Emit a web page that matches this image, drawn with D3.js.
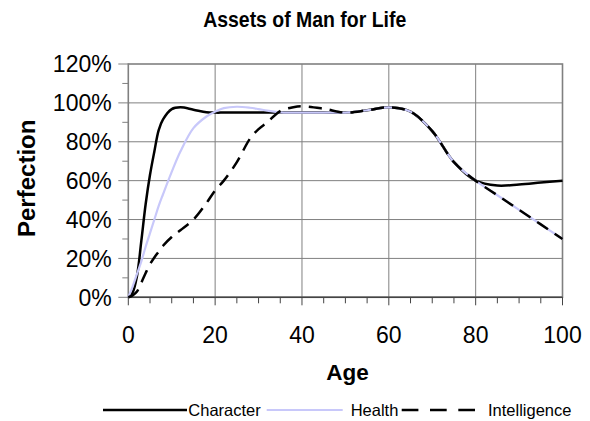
<!DOCTYPE html>
<html>
<head>
<meta charset="utf-8">
<script src="https://cdn.jsdelivr.net/npm/d3@7"></script>
<style>
  html, body { margin: 0; padding: 0; background: #fff; }
  svg { display: block; font-family: "Liberation Sans", Arial, sans-serif; }
</style>
</head>
<body>
<svg id="chart" width="590" height="421"></svg>
<script>
// ---- data ----
const ages = [0,1,2,3,4,5,6,7,8,10,12,15,18,20,22,25,28,30,32,35,38,40,45,50,55,60,65,70,75,80,85,90,95,100];
const character = [0,2.5,11,29,48,63,75,86,91.5,96.8,97.7,96.5,95.2,95,95,95,95,95,95,95,95,95,95,95,96.2,97.7,95.5,85.5,69.5,60,57.5,58,59,60];
const health = [0,5.5,12,18.5,26,33,40,47,53,64.5,75,87,93,95.5,97.3,98,97.5,96.8,96,95.1,95,95,95,95,96.2,97.7,95.5,85.5,69.5,60,52.5,45,37.5,30];
const intelligence = [0,1,3,7.5,12.5,17,20.5,23.5,26.5,31,34.5,40,48.5,55,60,69.5,81.5,86.5,90,95.8,97.8,98.3,97,95,96.2,97.7,95.5,85.5,69.5,60,52.5,45,37.5,30];
const seriesNames = ["Character", "Health", "Intelligence"];
const xTicks = [0,20,40,60,80,100];
const yTicks = [0,20,40,60,80,100,120];
const titleText = "Assets of Man for Life";
const xTitle = "Age";
const yTitle = "Perfection";

const svg = d3.select("#chart");
const x = d3.scaleLinear().domain([0,100]).range([128.3, 562.5]);
const y = d3.scaleLinear().domain([0,120]).range([297.3, 64]);

const gridColor = "#808080";

// gridlines
svg.append("g").selectAll("line.h").data(yTicks.filter(d => d > 0 && d < 120)).join("line")
  .attr("x1", x(0)).attr("x2", x(100)).attr("y1", d => y(d)).attr("y2", d => y(d))
  .attr("stroke", gridColor).attr("stroke-width", 1);
svg.append("g").selectAll("line.v").data(xTicks.filter(d => d > 0 && d < 100)).join("line")
  .attr("x1", d => x(d)).attr("x2", d => x(d)).attr("y1", y(0)).attr("y2", y(120))
  .attr("stroke", gridColor).attr("stroke-width", 1);

// plot border
svg.append("rect").attr("x", x(0)).attr("y", y(120)).attr("width", x(100) - x(0)).attr("height", y(0) - y(120))
  .attr("fill", "none").attr("stroke", gridColor).attr("stroke-width", 1.6);

// y axis ticks (every 10%)
const yMinor = d3.range(0, 121, 10);
svg.append("g").selectAll("line").data(yMinor).join("line")
  .attr("x1", d => d % 20 === 0 ? x(0) - 10 : x(0) - 6).attr("x2", d => d % 20 === 0 ? x(0) + 1 : x(0))
  .attr("y1", d => y(d)).attr("y2", d => y(d))
  .attr("stroke", gridColor).attr("stroke-width", 1);
// x axis ticks (every 5)
const xMinor = d3.range(0, 101, 5);
svg.append("g").selectAll("line").data(xMinor).join("line")
  .attr("x1", d => x(d)).attr("x2", d => x(d))
  .attr("y1", y(0)).attr("y2", d => d % 20 === 0 ? y(0) + 8 : y(0) + 6)
  .attr("stroke", "#444").attr("stroke-width", 1);
svg.append("line").attr("x1", x(0)).attr("x2", x(100)).attr("y1", y(0)).attr("y2", y(0))
  .attr("stroke", "#444").attr("stroke-width", 1.6);

// tick labels
svg.append("g").selectAll("text").data(yTicks).join("text")
  .attr("x", 111.7).attr("y", d => y(d) + 8.2)
  .attr("text-anchor", "end").attr("font-size", 23).attr("fill", "#000")
  .text(d => d + "%");
svg.append("g").selectAll("text").data(xTicks).join("text")
  .attr("x", d => x(d)).attr("y", 343.3)
  .attr("text-anchor", "middle").attr("font-size", 23).attr("fill", "#000")
  .text(d => d);

// titles
svg.append("text").attr("x", 304.7).attr("y", 26.7).attr("text-anchor", "middle")
  .attr("font-size", 22).attr("font-weight", "bold")
  .attr("textLength", 203).attr("lengthAdjust", "spacingAndGlyphs").text(titleText);
svg.append("text").attr("x", 347.5).attr("y", 380).attr("text-anchor", "middle")
  .attr("font-size", 22.5).attr("font-weight", "bold").text(xTitle);
svg.append("text").attr("transform", "translate(35,178.3) rotate(-90)").attr("text-anchor", "middle")
  .attr("font-size", 24).attr("font-weight", "bold").text(yTitle);

// lines
const series = [
  { name: seriesNames[0], values: character, color: "#000", width: 2.5, dash: null },
  { name: seriesNames[1], values: health, color: "#c8c8fa", width: 2.2, dash: null },
  { name: seriesNames[2], values: intelligence, color: "#000", width: 2.5, dash: "13,8" }
];
const line = d3.line().x((d, i) => x(ages[i])).y(d => y(d)).curve(d3.curveCatmullRom.alpha(0.5));
svg.append("g").selectAll("path").data([series[0], series[1], series[2]]).join("path")
  .attr("d", s => line(s.values))
  .attr("fill", "none").attr("stroke", s => s.color).attr("stroke-width", s => s.width)
  .attr("stroke-dasharray", s => s.dash)
  .attr("stroke-linejoin", "round");

// legend
const legendY = 410;
const legendItems = [
  { s: series[0], x1: 103, x2: 187, tx: 188.3, dash: null },
  { s: series[1], x1: 266.7, x2: 342.7, tx: 350.7, dash: null },
  { s: series[2], x1: 401.7, x2: 475, tx: 488, dash: "16.7,11.6" }
];
const lg = svg.append("g");
legendItems.forEach(it => {
  lg.append("line").attr("x1", it.x1).attr("x2", it.x2).attr("y1", legendY).attr("y2", legendY)
    .attr("stroke", it.s.color).attr("stroke-width", it.s.width).attr("stroke-dasharray", it.dash);
  lg.append("text").attr("x", it.tx).attr("y", 415.5).attr("font-size", 16.5).text(it.s.name);
});
</script>
</body>
</html>
